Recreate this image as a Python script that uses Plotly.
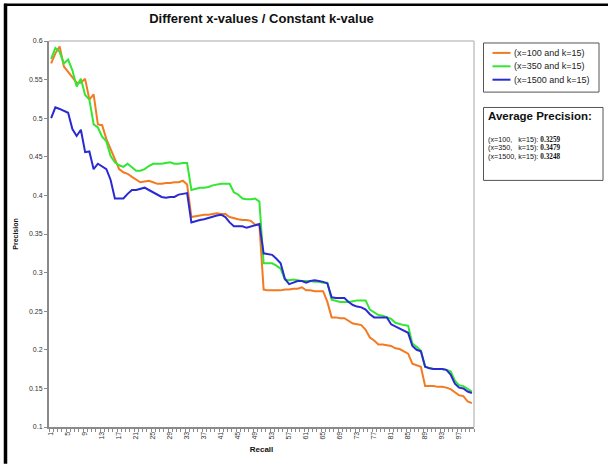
import plotly.graph_objects as go

# Recall points 1..100 and precision per configuration
recall = list(range(1, 101))

prec_x100 = [
    0.571, 0.584, 0.593, 0.567, 0.560, 0.553, 0.546, 0.546, 0.551, 0.524,
    0.531, 0.492, 0.491, 0.473, 0.460, 0.445, 0.434, 0.430, 0.428, 0.424,
    0.421, 0.417, 0.418, 0.419, 0.417, 0.415, 0.415, 0.416, 0.416, 0.417,
    0.417, 0.419, 0.414, 0.372, 0.373, 0.374, 0.375, 0.375, 0.376, 0.377,
    0.376, 0.376, 0.372, 0.370, 0.369, 0.368, 0.368, 0.367, 0.362, 0.362,
    0.278, 0.277, 0.277, 0.277, 0.277, 0.278, 0.278, 0.279, 0.279, 0.281,
    0.277, 0.277, 0.276, 0.276, 0.276, 0.262, 0.242, 0.242, 0.241, 0.241,
    0.238, 0.234, 0.233, 0.232, 0.226, 0.216, 0.212, 0.207, 0.207, 0.206,
    0.205, 0.202, 0.201, 0.198, 0.195, 0.182, 0.180, 0.178, 0.153, 0.153,
    0.153, 0.152, 0.152, 0.151, 0.149, 0.145, 0.141, 0.140, 0.133, 0.131,
]

prec_x350 = [
    0.577, 0.591, 0.586, 0.571, 0.576, 0.562, 0.541, 0.551, 0.530, 0.524,
    0.492, 0.488, 0.476, 0.470, 0.451, 0.443, 0.439, 0.437, 0.441, 0.437,
    0.432, 0.432, 0.434, 0.438, 0.441, 0.441, 0.441, 0.442, 0.443, 0.441,
    0.441, 0.442, 0.442, 0.407, 0.408, 0.410, 0.410, 0.411, 0.413, 0.414,
    0.415, 0.415, 0.415, 0.404, 0.401, 0.396, 0.395, 0.395, 0.396, 0.392,
    0.312, 0.312, 0.312, 0.309, 0.305, 0.291, 0.290, 0.291, 0.290, 0.289,
    0.289, 0.289, 0.288, 0.288, 0.287, 0.287, 0.265, 0.263, 0.262, 0.262,
    0.262, 0.263, 0.264, 0.264, 0.264, 0.252, 0.248, 0.245, 0.244, 0.242,
    0.240, 0.235, 0.233, 0.232, 0.231, 0.208, 0.204, 0.199, 0.178, 0.176,
    0.175, 0.175, 0.175, 0.174, 0.172, 0.160, 0.154, 0.153, 0.150, 0.146,
]

prec_x1500 = [
    0.500, 0.514, 0.512, 0.510, 0.507, 0.486, 0.477, 0.485, 0.456, 0.457,
    0.434, 0.441, 0.437, 0.434, 0.420, 0.396, 0.396, 0.396, 0.402, 0.407,
    0.407, 0.408, 0.410, 0.407, 0.404, 0.401, 0.398, 0.397, 0.398, 0.398,
    0.401, 0.402, 0.403, 0.365, 0.367, 0.368, 0.369, 0.371, 0.372, 0.374,
    0.375, 0.372, 0.365, 0.360, 0.360, 0.360, 0.358, 0.360, 0.362, 0.363,
    0.325, 0.324, 0.323, 0.318, 0.312, 0.292, 0.285, 0.287, 0.289, 0.289,
    0.287, 0.289, 0.290, 0.289, 0.288, 0.286, 0.268, 0.267, 0.267, 0.267,
    0.262, 0.258, 0.256, 0.255, 0.252, 0.246, 0.242, 0.242, 0.242, 0.242,
    0.233, 0.230, 0.227, 0.224, 0.222, 0.205, 0.200, 0.198, 0.178, 0.176,
    0.175, 0.175, 0.175, 0.174, 0.168, 0.156, 0.151, 0.150, 0.146, 0.144,
]

series_names = ["(x=100 and k=15)", "(x=350 and k=15)", "(x=1500 and k=15)"]
series_colors = ["#F47A22", "#33E633", "#2A2AD2"]

NB = "\u00a0"
avg_labels = [f"(x=100,{NB*3}k=15):{NB}", f"(x=350,{NB*3}k=15):{NB}", f"(x=1500,{NB}k=15):{NB}"]
avg_values = ["0.3259", "0.3479", "0.3248"]

x_tick_vals = list(range(1, 101, 4))
y_tick_vals = [0.1, 0.15, 0.2, 0.25, 0.3, 0.35, 0.4, 0.45, 0.5, 0.55, 0.6]

W, H = 608, 465
L, R, T, B = 49, 474, 41, 430
SANS = "Arial, Liberation Sans, sans-serif"

def px(x):
    return (x - L) / (R - L)

def py(y):
    return (B - y) / (B - T)

fig = go.Figure()
for name, color, vals in zip(series_names, series_colors,
                             [prec_x100, prec_x350, prec_x1500]):
    fig.add_trace(go.Scatter(
        x=recall, y=vals, mode="lines", name=name,
        line=dict(color=color, width=2),
    ))

axis_font = dict(family=SANS, size=7, color="#333333")

fig.update_layout(
    width=W, height=H,
    margin=dict(l=L, r=W - R, t=T, b=H - B, pad=0),
    paper_bgcolor="white", plot_bgcolor="white",
    showlegend=False,
    title=dict(
        text="<b>Different x-values / Constant k-value</b>",
        x=(L + R) / 2 / W, xanchor="center", y=1 - 18 / H, yanchor="middle",
        font=dict(family=SANS, size=13, color="#111111"),
    ),
    xaxis=dict(
        range=[0.5, 100.5], showgrid=False, zeroline=False,
        tickmode="array", tickvals=x_tick_vals,
        ticktext=[str(v) for v in x_tick_vals],
        ticks="", tickangle=-90, tickfont=axis_font,
        showline=True, linecolor="#8a8a8a", linewidth=2,
        minor=dict(tickmode="linear", tick0=0.5, dtick=1, ticks="outside",
                   ticklen=3, tickcolor="#8a8a8a", tickwidth=1, showgrid=False),
        title=dict(text="<b>Recall</b>", standoff=8,
                   font=dict(family=SANS, size=8, color="#111111")),
    ),
    yaxis=dict(
        range=[0.1, 0.6], showgrid=False, zeroline=False,
        tickmode="array", tickvals=y_tick_vals,
        ticktext=[f"{v:g}" for v in y_tick_vals],
        ticks="outside", ticklen=3, tickcolor="#8a8a8a", tickfont=axis_font,
        showline=True, linecolor="#8a8a8a", linewidth=2,
        title=dict(text="<b>Precision</b>", standoff=10,
                   font=dict(family=SANS, size=7, color="#111111")),
    ),
)

shapes = []
# light frame around the plot area (top and right edges)
shapes.append(dict(type="line", xref="paper", yref="paper", x0=0, x1=1, y0=1, y1=1,
                   line=dict(color="#c4c4c4", width=1.5)))
shapes.append(dict(type="line", xref="paper", yref="paper", x0=1, x1=1, y0=0, y1=1,
                   line=dict(color="#c4c4c4", width=1.5)))
# outer black frame (left and top edges)
shapes.append(dict(type="line", xref="paper", yref="paper",
                   x0=px(5.5), x1=px(5.5), y0=py(3.5), y1=py(H + 2),
                   line=dict(color="black", width=3.5)))
shapes.append(dict(type="line", xref="paper", yref="paper",
                   x0=px(4), x1=px(W + 2), y0=py(4.5), y1=py(4.5),
                   line=dict(color="black", width=2.5)))
# legend box
shapes.append(dict(type="rect", xref="paper", yref="paper",
                   x0=px(483.5), x1=px(599), y0=py(43), y1=py(92.5),
                   line=dict(color="#555555", width=1), fillcolor="white"))
# average precision box
shapes.append(dict(type="rect", xref="paper", yref="paper",
                   x0=px(483.5), x1=px(603), y0=py(108), y1=py(181.5),
                   line=dict(color="#555555", width=1), fillcolor="white"))

annotations = []
legend_rows = [53, 66.5, 80]
for name, color, ry in zip(series_names, series_colors, legend_rows):
    shapes.append(dict(type="line", xref="paper", yref="paper",
                       x0=px(492.5), x1=px(510.5), y0=py(ry), y1=py(ry),
                       line=dict(color=color, width=2)))
    annotations.append(dict(
        xref="paper", yref="paper", x=px(511.5), y=py(ry), xanchor="left", yanchor="middle",
        text=name, showarrow=False,
        font=dict(family=SANS, size=9, color="#222222"),
    ))
fig.update_layout(shapes=shapes)

annotations.append(dict(
    xref="paper", yref="paper", x=px(486), y=py(116.5), xanchor="left", yanchor="middle",
    text="<b>Average Precision:</b>", showarrow=False,
    font=dict(family=SANS, size=11.5, color="#111111"),
))
for i, (lab, val) in enumerate(zip(avg_labels, avg_values)):
    annotations.append(dict(
        xref="paper", yref="paper", x=px(486), y=py(140.5 + 8.2 * i),
        xanchor="left", yanchor="middle", showarrow=False,
        text=f"{lab}<b><span style='font-family:Liberation Serif, Times New Roman, serif'>{val}</span></b>",
        font=dict(family=SANS, size=7.2, color="#111111"),
    ))
fig.update_layout(annotations=annotations)

fig.write_html("out.html")
